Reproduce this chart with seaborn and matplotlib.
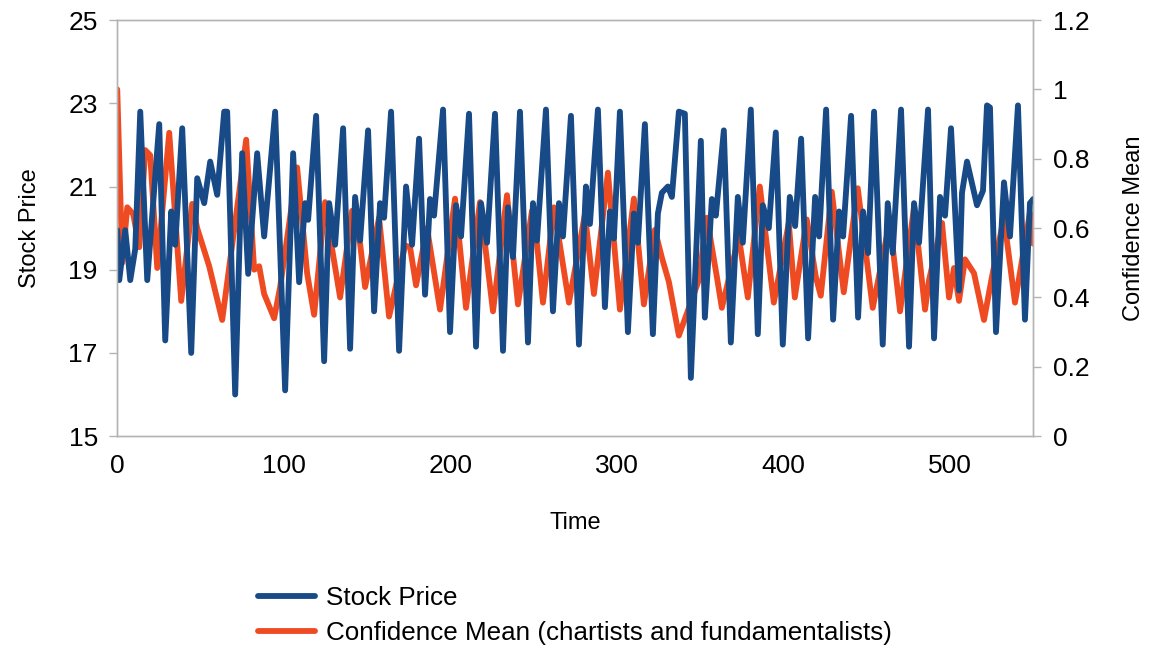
import matplotlib
matplotlib.use('Agg')
import matplotlib.pyplot as plt
import matplotlib.ticker as mticker
import pandas as pd
import seaborn as sns

price_time = [0, 1.2, 4.8, 7.8, 10.8, 13.8, 18, 25.2, 28.8, 32.4, 34.8, 39, 44.4,
              48, 52.2, 55.8, 60, 64.2, 66, 70.8, 75, 78.6, 84, 88.2, 94.8, 100.8,
              105.6, 109.2, 112.8, 114.6, 119.4, 124.2, 127.2, 130.8, 135.6, 139.8,
              142.8, 145.8, 150.6, 154.2, 157.8, 160.2, 164.4, 169.2, 173.4, 177,
              181.2, 184.8, 187.8, 190.2, 195.6, 199.8, 203.4, 206.4, 211.2, 215.4,
              218.4, 222, 226.8, 231.6, 234.6, 237.6, 241.8, 246.6, 249.6, 252,
              257.4, 261.6, 265.2, 267.6, 272.4, 277.2, 281.4, 283.8, 288.6, 292.8,
              295.8, 298.2, 301.8, 306.6, 310.2, 312.6, 316.8, 321.6, 324.6, 327,
              330.6, 333, 337.2, 340.8, 344.4, 350.4, 352.8, 357, 359.4, 364.2,
              368.4, 372.6, 375.6, 380.4, 384.6, 387.6, 391.2, 395.4, 399.6, 403.8,
              407, 410.6, 414.8, 419, 421.4, 425.6, 429.8, 433.4, 435.8, 440.6,
              444.8, 447.8, 450.8, 454.4, 459.6, 462.6, 465.6, 470.6, 475.4, 478.4,
              481.4, 486.8, 490.4, 494, 497, 500.6, 505.4, 507.2, 510.2, 516.2,
              519.8, 522.2, 524, 527.6, 532.4, 536, 540.8, 545, 548, 550]
price = [19.95, 18.75, 19.95, 18.75, 19.5, 22.8, 18.75, 22.5, 17.3, 20.4, 19.6, 22.4, 17.0,
         21.2, 20.6, 21.6, 20.8, 22.8, 22.8, 16.0, 21.8, 18.9, 21.8, 19.8, 22.8, 16.1,
         21.8, 18.7, 20.6, 20.2, 22.7, 16.8, 20.6, 19.6, 22.4, 17.1,
         20.75, 19.7, 22.35, 18.0, 20.6, 20.25, 22.8, 17.05, 21.0, 19.6,
         22.15, 18.4, 20.7, 20.3, 22.85, 17.5, 20.55, 19.8, 22.75, 17.15,
         20.6, 19.65, 22.75, 17.05, 20.5, 19.3, 22.8, 17.25, 20.6, 19.7,
         22.85, 18.0, 20.6, 19.8, 22.7, 17.2, 21.0, 20.1, 22.85, 18.1,
         20.4, 19.75, 22.8, 17.5, 20.35, 19.65, 22.5, 17.45, 20.35, 20.85,
         21.0, 20.75, 22.8, 22.75, 16.4, 22.1, 17.85, 20.7, 20.3, 22.35,
         17.25, 20.75, 19.65, 22.85, 17.45, 20.55, 20.0, 22.3, 17.2, 20.75,
         20.05, 22.15, 17.35, 20.75, 19.8, 22.85, 17.8, 20.4, 19.8, 22.7,
         17.85, 20.4, 19.4, 22.8, 17.2, 20.6, 19.4, 22.85, 17.15, 20.6,
         19.65, 22.85, 17.35, 20.75, 20.3, 22.4, 18.5, 20.85, 21.6, 20.55,
         20.9, 22.95, 22.9, 17.5, 21.1, 19.8, 22.95, 17.8, 20.6, 20.7]

# confidence mean, orange line
conf_time = [0, 3, 6, 9.6, 13.2, 16.8, 19.8, 24, 31.2, 38.4, 45, 48, 55.2, 63, 77.4,
             82.2, 85.2, 88.2, 94.2, 97.8, 108, 114, 118.2, 124.8, 129, 133.8, 141,
             145.8, 148.8, 157.2, 163.2, 172.8, 175.8, 179.4, 186, 193.8, 202.8,
             209.4, 217.8, 225.6, 234, 240.6, 249, 252, 255.6, 262.2, 271.2, 280.8,
             286.2, 294.6, 301.8, 310.2, 316.2, 322.8, 327, 331.2, 337.2, 349.2,
             354, 360, 363, 373.2, 378.6, 385.8, 394.2, 403.2, 406.8, 414, 419.4,
             422.4, 429, 436.2, 444.6, 453.6, 463.8, 470, 478.4, 485, 487.4, 495.2,
             499.4, 502.4, 505.4, 509, 514.4, 520.4, 525.2, 532.4, 539, 548, 550]
conf = [1.0, 0.5, 0.66, 0.64, 0.545, 0.825, 0.81, 0.485, 0.875, 0.39, 0.67, 0.6, 0.49, 0.335, 0.855,
        0.48, 0.49, 0.41, 0.34, 0.43, 0.775, 0.47, 0.35, 0.675, 0.54, 0.4, 0.65,
        0.555, 0.43, 0.63, 0.345, 0.55, 0.545, 0.435, 0.6, 0.365, 0.685,
        0.37, 0.675, 0.36, 0.695, 0.38, 0.65, 0.555, 0.385, 0.66, 0.385, 0.64,
        0.41, 0.76, 0.365, 0.685, 0.38, 0.595, 0.515, 0.445, 0.29, 0.45,
        0.63, 0.46, 0.37, 0.575, 0.4, 0.72, 0.385, 0.615, 0.4, 0.625, 0.46,
        0.405, 0.705, 0.415, 0.715, 0.37, 0.62, 0.36, 0.66, 0.365, 0.45, 0.615,
        0.4, 0.485, 0.39, 0.51, 0.47, 0.335, 0.46, 0.63, 0.385, 0.645, 0.555]

blue = '#174a86'
orange = '#ef4b22'

sns.set_style('white')
plt.rcParams['font.family'] = ['Liberation Sans', 'DejaVu Sans']
plt.rcParams['text.color'] = 'black'
plt.rcParams['axes.labelcolor'] = 'black'

df_price = pd.DataFrame({'Time': price_time, 'Stock Price': price})
df_conf = pd.DataFrame({'Time': conf_time, 'Confidence': conf})

fig, ax = plt.subplots(figsize=(11.61, 6.49), dpi=100)
fig.subplots_adjust(left=0.101, right=0.89, top=0.969, bottom=0.328)
ax2 = ax.twinx()

sns.lineplot(data=df_conf, x='Time', y='Confidence', ax=ax2, color=orange, lw=4.2,
             label='Confidence Mean (chartists and fundamentalists)', legend=False,
             solid_joinstyle='round')
sns.lineplot(data=df_price, x='Time', y='Stock Price', ax=ax, color=blue, lw=4.2,
             label='Stock Price', legend=False, solid_joinstyle='round')

# blue drawn above orange
ax.set_zorder(2)
ax.patch.set_visible(False)
ax2.set_zorder(1)

ax.set_xlim(0, 550)
ax.set_ylim(15, 25)
ax2.set_ylim(0, 1.2)
ax.set_xticks([0, 100, 200, 300, 400, 500])
ax.set_yticks([15, 17, 19, 21, 23, 25])
ax2.set_yticks([0, 0.2, 0.4, 0.6, 0.8, 1.0, 1.2])
ax2.yaxis.set_major_formatter(mticker.FuncFormatter(lambda v, p: f'{v:g}'))

ax.set_xlabel('Time', fontsize=17, labelpad=24)
ax.set_ylabel('Stock Price', fontsize=17, labelpad=20)
ax2.set_ylabel('Confidence Mean', fontsize=17, labelpad=24)

for a in (ax, ax2):
    a.tick_params(labelsize=19, length=6, width=1, color='#b3b3b3', direction='out',
                  labelcolor='black')
    for s in a.spines.values():
        s.set_color('#b3b3b3')
        s.set_linewidth(1)
ax.tick_params(axis='x', pad=7)
ax2.tick_params(axis='y', left=False, right=True, pad=8)
ax.tick_params(axis='y', left=True, pad=8)

h1, l1 = ax.get_legend_handles_labels()
h2, l2 = ax2.get_legend_handles_labels()
fig.legend(h1 + h2, l1 + l2, loc='center', bbox_to_anchor=(0.495, 0.052), frameon=False,
           fontsize=18.7, handlelength=2.2, handletextpad=0.4, labelspacing=0.42)

fig.savefig('out.png', dpi=100)
